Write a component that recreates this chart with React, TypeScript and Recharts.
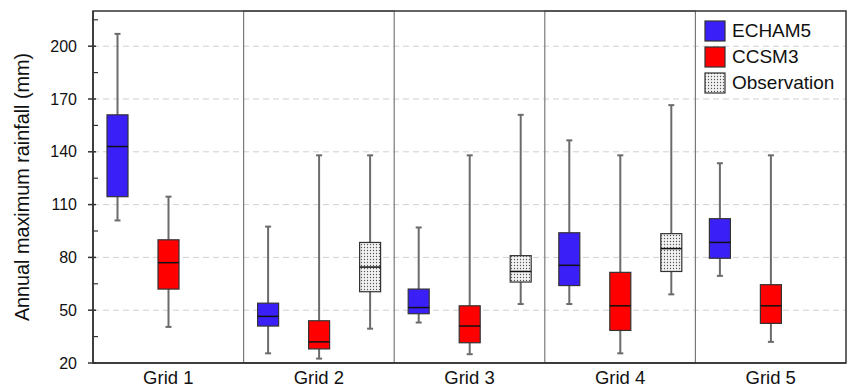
import {
  ComposedChart,
  Bar,
  XAxis,
  YAxis,
  CartesianGrid,
  ReferenceArea,
  Legend,
} from "recharts";

const categories = ["Grid 1", "Grid 2", "Grid 3", "Grid 4", "Grid 5"];

// box statistics (mm)
const echamMin = [101, 25.5, 43, 53.5, 69.5];
const echamQ1 = [114.5, 41, 48, 64, 79.5];
const echamMedian = [143, 46.5, 51.5, 75.5, 88.5];
const echamQ3 = [161, 54, 62, 94, 102];
const echamMax = [207, 97.5, 97, 146.5, 133.5];

const ccsmMin = [40.5, 22.5, 25, 25.5, 32];
const ccsmQ1 = [62, 28, 31.5, 38.5, 42.5];
const ccsmMedian = [77, 32, 41, 52.5, 52.5];
const ccsmQ3 = [90, 44, 52.5, 71.5, 64.5];
const ccsmMax = [114.5, 138, 138, 138, 138];

const obsMin = [null, 39.5, 53.5, 59, null];
const obsQ1 = [null, 60.5, 66, 72, null];
const obsMedian = [null, 74.5, 72, 85, null];
const obsQ3 = [null, 88.5, 81, 93.5, null];
const obsMax = [null, 138, 161, 166.5, null];

const majorTicks = [20, 50, 80, 110, 140, 170, 200];
const minorTicks = [35, 65, 95, 125, 155, 185, 215];

type Stat = (number | null)[];
interface Series {
  key: string;
  name: string;
  fill: string;
  min: Stat;
  q1: Stat;
  median: Stat;
  q3: Stat;
  max: Stat;
}

const series: Series[] = [
  { key: "echam", name: "ECHAM5", fill: "#3a1ff7", min: echamMin, q1: echamQ1, median: echamMedian, q3: echamQ3, max: echamMax },
  { key: "ccsm", name: "CCSM3", fill: "#ff0000", min: ccsmMin, q1: ccsmQ1, median: ccsmMedian, q3: ccsmQ3, max: ccsmMax },
  { key: "obs", name: "Observation", fill: "url(#dots)", min: obsMin, q1: obsQ1, median: obsMedian, q3: obsQ3, max: obsMax },
];

const data = categories.map((grid, i) => {
  const row: Record<string, unknown> = { grid, idx: i };
  series.forEach((s) => {
    const lo = s.q1[i];
    const hi = s.q3[i];
    row[s.key] = lo == null || hi == null ? null : [lo, hi];
  });
  return row;
});

const FONT = '"Liberation Sans", Arial, sans-serif';
const MARGIN = { top: 11, right: 3, bottom: 0, left: 0 };
const Y_AXIS_WIDTH = 93;
const AXIS_X = MARGIN.left + Y_AXIS_WIDTH;
const Y_DOMAIN: [number, number] = [20, 220];
const WHISKER = "#6b6b6b";

function makeBoxShape(s: Series) {
  return (props: any) => {
    const { x, y, width, height, payload } = props;
    const i = payload?.idx;
    const q1 = s.q1[i];
    const q3 = s.q3[i];
    if (q1 == null || q3 == null || !height) return <g />;
    const k = height / (q3 - q1);
    const py = (v: number) => y + (q3 - v) * k;
    const cx = x + width / 2;
    const top = py(s.max[i] as number);
    const bot = py(s.min[i] as number);
    const med = py(s.median[i] as number);
    return (
      <g>
        <line x1={cx} x2={cx} y1={top} y2={y} stroke={WHISKER} strokeWidth={2} />
        <line x1={cx} x2={cx} y1={y + height} y2={bot} stroke={WHISKER} strokeWidth={2} />
        <line x1={cx - 3} x2={cx + 3} y1={top} y2={top} stroke={WHISKER} strokeWidth={2} />
        <line x1={cx - 3} x2={cx + 3} y1={bot} y2={bot} stroke={WHISKER} strokeWidth={2} />
        <rect x={x} y={y} width={width} height={height} fill={s.fill} stroke="#333" strokeWidth={1.2} />
        <line x1={x} x2={x + width} y1={med} y2={med} stroke="#111" strokeWidth={1.5} />
      </g>
    );
  };
}

function YTick(props: any) {
  const { y, payload } = props;
  const v = payload.value;
  if (majorTicks.includes(v)) {
    return (
      <g>
        <line x1={AXIS_X - 5} x2={AXIS_X + 3} y1={y} y2={y} stroke="#333" strokeWidth={1.5} />
        <text x={AXIS_X - 16} y={y} textAnchor="end" dominantBaseline="central" fontSize={16} fill="#111" fontFamily={FONT}>
          {v}
        </text>
      </g>
    );
  }
  return <line x1={AXIS_X} x2={AXIS_X + 5} y1={y} y2={y} stroke="#333" strokeWidth={1.2} />;
}

function YLabel(props: any) {
  const vb = props.viewBox || { x: 0, y: MARGIN.top, height: 352 };
  const cx = vb.x + 22;
  const cy = vb.y + vb.height / 2;
  return (
    <text
      x={cx}
      y={cy}
      transform={`rotate(-90 ${cx} ${cy})`}
      textAnchor="middle"
      dominantBaseline="central"
      fontSize={19.8}
      fill="#111"
      fontFamily={FONT}
    >
      Annual maximum rainfall (mm)
    </text>
  );
}

function LegendBox() {
  return (
    <div style={{ fontFamily: FONT, fontSize: 19, color: "#111" }}>
      {series.map((s) => (
        <div key={s.key} style={{ display: "flex", alignItems: "center", height: 26 }}>
          <svg width={22} height={22} style={{ marginRight: 6 }}>
            <defs>
              <pattern id={`ldots-${s.key}`} width={3} height={3} patternUnits="userSpaceOnUse">
                <rect width={3} height={3} fill="#f2f2f2" />
                <circle cx={1.5} cy={1.5} r={0.65} fill="#555" />
              </pattern>
            </defs>
            <rect
              x={1}
              y={1}
              width={20}
              height={20}
              fill={s.key === "obs" ? `url(#ldots-${s.key})` : s.fill}
              stroke="#333"
              strokeWidth={1.2}
            />
          </svg>
          <span>{s.name}</span>
        </div>
      ))}
    </div>
  );
}

// dashed horizontal grid only at the labelled values
function gridRows({ yAxis, offset }: any) {
  const vals = majorTicks.filter((v) => v > Y_DOMAIN[0]);
  if (yAxis && typeof yAxis.scale === "function") return vals.map((v) => yAxis.scale(v));
  return vals.map(
    (v) => offset.top + (offset.height * (Y_DOMAIN[1] - v)) / (Y_DOMAIN[1] - Y_DOMAIN[0])
  );
}

export default function App() {
  return (
    <div style={{ position: "absolute", left: 0, top: 0, background: "#fff", fontFamily: FONT }}>
      <ComposedChart width={849} height={387} data={data} margin={MARGIN} barSize={21} barGap={30}>
        <defs>
          <pattern id="dots" width={3} height={3} patternUnits="userSpaceOnUse">
            <rect width={3} height={3} fill="#f2f2f2" />
            <circle cx={1.5} cy={1.5} r={0.65} fill="#555" />
          </pattern>
        </defs>
        <CartesianGrid
          vertical={false}
          stroke="#d0d0d0"
          strokeDasharray="6 4"
          horizontalCoordinatesGenerator={gridRows}
        />
        <XAxis
          dataKey="grid"
          interval={0}
          tickLine={false}
          tickMargin={2}
          height={24}
          axisLine={{ stroke: "#333", strokeWidth: 1.5 }}
          tick={{ fontSize: 18.5, fill: "#111", fontFamily: FONT }}
        />
        <YAxis
          type="number"
          domain={Y_DOMAIN}
          ticks={[...majorTicks, ...minorTicks].sort((a, b) => a - b)}
          interval={0}
          width={Y_AXIS_WIDTH}
          tickLine={false}
          axisLine={{ stroke: "#333", strokeWidth: 1.5 }}
          tick={<YTick />}
          label={<YLabel />}
        />
        <ReferenceArea x1="Grid 2" x2="Grid 2" y1={20} y2={220} fill="none" stroke="#7a7a7a" strokeWidth={1.2} ifOverflow="visible" />
        <ReferenceArea x1="Grid 4" x2="Grid 4" y1={20} y2={220} fill="none" stroke="#7a7a7a" strokeWidth={1.2} ifOverflow="visible" />
        {series.map((s) => (
          <Bar
            key={s.key}
            dataKey={s.key}
            name={s.name}
            fill={s.fill}
            isAnimationActive={false}
            shape={makeBoxShape(s)}
          />
        ))}
        <ReferenceArea y1={20} y2={220} fill="none" stroke="#333" strokeWidth={1.5} ifOverflow="visible" />
        <Legend
          layout="vertical"
          align="center"
          verticalAlign="middle"
          wrapperStyle={{ top: 18, left: 704, width: 140, height: 80 }}
          content={() => <LegendBox />}
        />
      </ComposedChart>
    </div>
  );
}
